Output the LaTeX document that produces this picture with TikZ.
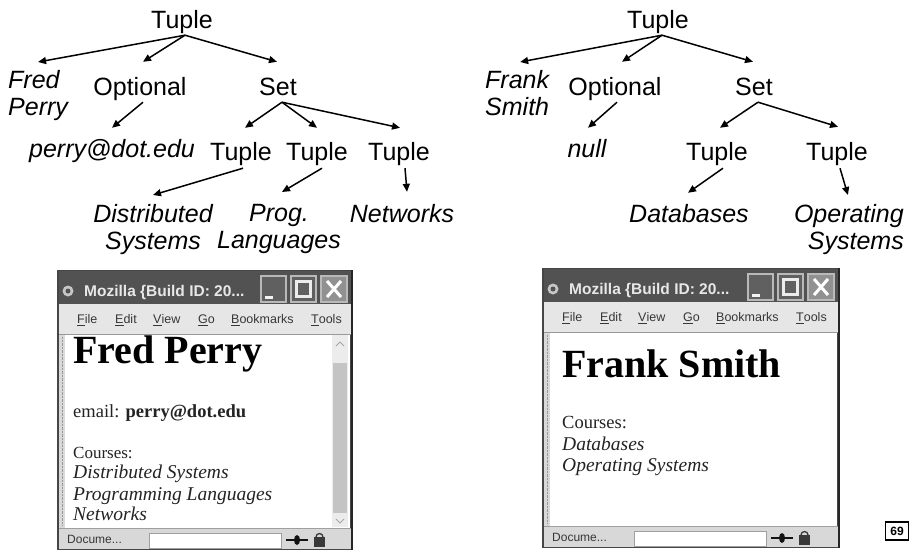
\documentclass[tikz,border=0pt]{standalone}
\usepackage{fontspec}
\setmainfont{Liberation Serif}
\newfontfamily\arialfam{Liberation Sans}
\usetikzlibrary{arrows.meta}

\definecolor{titlebar}{RGB}{82,82,82}
\definecolor{titletext}{RGB}{232,232,232}
\definecolor{menubg}{RGB}{230,230,230}
\definecolor{menutext}{RGB}{55,55,55}
\definecolor{framecol}{RGB}{70,70,70}
\definecolor{statusbg}{RGB}{216,216,216}
\definecolor{btnedge}{RGB}{185,185,185}
\definecolor{btnfill}{RGB}{96,96,96}
\definecolor{closefill}{RGB}{145,145,145}
\definecolor{scrolltrack}{RGB}{236,236,236}
\definecolor{scrollthumb}{RGB}{196,196,196}
\definecolor{pagetext}{RGB}{35,35,35}

\tikzset{
  lbl/.style={font=\arialfam\fontsize{25}{27}\selectfont, inner sep=0pt,
              text height=18pt, text depth=5pt, anchor=base},
  ilbl/.style={lbl, font=\arialfam\itshape\fontsize{25}{27}\selectfont},
  mlbl/.style={font=\arialfam\itshape\fontsize{25}{27}\selectfont, inner sep=0pt},
  arr/.style={-{Triangle[length=8pt,width=7pt]}, line width=1.5pt},
  menuitem/.style={font=\arialfam\fontsize{12.5}{14}\selectfont, text=menutext,
                   inner sep=0pt, anchor=west},
  pagehead/.style={font=\bfseries\fontsize{40}{42}\selectfont, inner sep=0pt,
                   anchor=base west, text=black},
  pageline/.style={font=\fontsize{18.5}{20}\selectfont, inner sep=0pt,
                   anchor=base west, text=pagetext},
  pageital/.style={font=\itshape\fontsize{19.5}{21}\selectfont, inner sep=0pt,
                   anchor=base west, text=pagetext},
}

% Browser window chrome: #1 = outer width, #2 = prefix for node names
\newcommand\mozwin[2]{%
  \def\ww{#1}%
  \fill[framecol] (0,0) rectangle (\ww,280);
  \fill[titlebar] (2,1) rectangle (\ww-2,34);
  % window icon
  \fill[gray!45] (11,21) circle (5.5);
  \fill[titlebar] (11,21) circle (2.5);
  \node[anchor=west, inner sep=0pt, text=titletext,
        font=\arialfam\bfseries\fontsize{15.5}{17}\selectfont] (#2title) at (27,22)
        {Mozilla \{Build ID: 20...};
  % minimize
  \fill[btnedge] (\ww-93,5) rectangle (\ww-66,33);
  \fill[btnfill] (\ww-91,7) rectangle (\ww-68,31);
  \fill[white!90!gray] (\ww-88,25.5) rectangle (\ww-80,28.5);
  % maximize
  \fill[btnedge] (\ww-63,5) rectangle (\ww-36,33);
  \fill[btnfill] (\ww-61,7) rectangle (\ww-38,31);
  \draw[white!85!gray, line width=2.5pt] (\ww-56.5,11.5) rectangle (\ww-42.5,26.5);
  % close
  \fill[btnedge] (\ww-33,5) rectangle (\ww-5,33);
  \fill[closefill] (\ww-31,7) rectangle (\ww-7,31);
  \draw[white, line width=3pt] (\ww-26,11) -- (\ww-12,27) (\ww-26,27) -- (\ww-12,11);
  % menu bar
  \fill[menubg] (2,34) rectangle (\ww-2,65);
  \draw[gray!80] (2,64.5) -- (\ww-2,64.5);
  \node[menuitem] (#2file) at (20,50) {\underline{F}ile};
  \node[menuitem] (#2edit) at (58,50) {\underline{E}dit};
  \node[menuitem] (#2view) at (96,50) {\underline{V}iew};
  \node[menuitem] (#2go) at (141,50) {\underline{G}o};
  \node[menuitem] (#2bm) at (174,50) {\underline{B}ookmarks};
  \node[menuitem] (#2tools) at (254,50) {\underline{T}ools};
  % page area with the left side strip
  \fill[white] (8,65) rectangle (\ww-3,258);
  \fill[gray!30] (2,65) rectangle (8,258);
  \draw[gray!80, densely dotted] (5,67) -- (5,256);
  % status bar
  \fill[statusbg] (2,258) rectangle (\ww-2,279);
  \draw[gray!75] (2,258.5) -- (\ww-2,258.5);
  \node[anchor=west, inner sep=0pt, text=menutext,
        font=\arialfam\fontsize{12}{13}\selectfont] (#2status) at (10,269) {Docume...};
  \filldraw[fill=white, draw=gray!75] (92,263) rectangle (224,278);
  % connection and security icons
  \draw[gray!15!black, line width=1.4pt] (229,270) -- (251,270);
  \fill[gray!15!black] (240,270) ellipse (3 and 5);
  \fill[gray!45!black] (257,267) rectangle (268,277);
  \draw[gray!45!black, line width=1.3pt] (259,267) arc (180:360:3.5);
  % dark outer edge on the right
  \draw[black!85, line width=2.5pt] (\ww-1,0) -- (\ww-1,280);
}

\begin{document}
\begin{tikzpicture}[x=1pt, y=-1pt]
\useasboundingbox (0,0) rectangle (910,554);
\fill[white] (0,0) rectangle (910,554);

% ---------- left tree ----------
\node[lbl] (t0) at (182,28) {Tuple};
\node[mlbl, align=left, anchor=north west] (fred) at (8,70) {Fred\\Perry};
\node[lbl] (opt) at (140,95) {Optional};
\node[lbl] (set) at (278,95) {Set};
\node[ilbl] (mail) at (112,157) {perry@dot.edu};
\node[lbl] (ta) at (241,160) {Tuple};
\node[lbl] (tb) at (317,160) {Tuple};
\node[lbl] (tc) at (399,160) {Tuple};
\node[mlbl, align=center, anchor=north] (dist) at (153,204) {Distributed\\Systems};
\node[mlbl, align=center, anchor=north] (prog) at (279,204) {Prog.\\Languages};
\node[ilbl] (net) at (402,222) {Networks};

\draw[arr] ([xshift=3pt,yshift=-2pt]t0.south) -- ([yshift=8pt]fred.north);
\draw[arr] ([xshift=3pt,yshift=-2pt]t0.south) -- ([xshift=3pt,yshift=15pt]opt.north);
\draw[arr] ([xshift=3pt,yshift=-2pt]t0.south) -- ([xshift=-1pt,yshift=15pt]set.north);
\draw[arr] ([xshift=3pt,yshift=-2pt]opt.south) -- ([yshift=11pt]mail.north);
\draw[arr] ([xshift=4pt,yshift=-2pt]set.south) -- ([xshift=4pt,yshift=14pt]ta.north);
\draw[arr] ([xshift=4pt,yshift=-2pt]set.south) -- ([yshift=14pt]tb.north);
\draw[arr] ([xshift=4pt,yshift=-2pt]set.south) -- ([xshift=1pt,yshift=14pt]tc.north);
\draw[arr] ([xshift=2pt,yshift=-3pt]ta.south) -- ([yshift=9pt]dist.north);
\draw[arr] ([xshift=5pt,yshift=-3pt]tb.south) -- ([xshift=3pt,yshift=12pt]prog.north);
\draw[arr] ([xshift=6pt,yshift=-3pt]tc.south) -- ([xshift=5pt,yshift=12pt]net.north);

% ---------- right tree ----------
\node[lbl] (u0) at (658,28) {Tuple};
\node[mlbl, align=left, anchor=north west] (frank) at (485,70) {Frank\\Smith};
\node[lbl] (optr) at (615,95) {Optional};
\node[lbl] (setr) at (754,95) {Set};
\node[ilbl] (nul) at (587,157) {null};
\node[lbl] (td) at (717,160) {Tuple};
\node[lbl] (te) at (837,160) {Tuple};
\node[ilbl] (db) at (689,222) {Databases};
\node[mlbl, align=right, anchor=north east] (os) at (904,204) {Operating\\Systems};

\draw[arr] ([xshift=4pt,yshift=-2pt]u0.south) -- ([xshift=3pt,yshift=8pt]frank.north);
\draw[arr] ([xshift=4pt,yshift=-2pt]u0.south) -- ([xshift=7pt,yshift=15pt]optr.north);
\draw[arr] ([xshift=4pt,yshift=-2pt]u0.south) -- ([xshift=-1pt,yshift=15pt]setr.north);
\draw[arr] ([xshift=2pt,yshift=-2pt]optr.south) -- ([xshift=1pt,yshift=11pt]nul.north);
\draw[arr] ([xshift=4pt,yshift=-2pt]setr.south) -- ([xshift=3pt,yshift=14pt]td.north);
\draw[arr] ([xshift=4pt,yshift=-2pt]setr.south) -- ([xshift=1pt,yshift=15pt]te.north);
\draw[arr] ([xshift=6pt,yshift=-3pt]td.south) -- ([xshift=-1pt,yshift=11pt]db.north);
\draw[arr] ([xshift=3pt,yshift=-3pt]te.south) -- ([xshift=-1pt,yshift=9pt]os.north);

% ---------- left browser window ----------
\begin{scope}[shift={(57,270)}]
  \mozwin{296}{lw}
  % vertical scrollbar
  \fill[scrolltrack] (275,65) rectangle (291,257);
  \fill[scrollthumb] (276,93) rectangle (290,243);
  \draw[gray!70, line width=1pt] (279,76) -- (283,72) -- (287,76);
  \draw[gray!70, line width=1pt] (279,249) -- (283,253) -- (287,249);
\end{scope}
\node[pagehead] (h1) at (73,363) {Fred Perry};
\node[pageline] (em) at (73,417) {email: \textbf{perry@dot.edu}};
\node[pageline, font=\fontsize{17}{20}\selectfont] (c1) at (73,458) {Courses:};
\node[pageital] (c1a) at (73,478) {Distributed Systems};
\node[pageital] (c1b) at (73,500) {Programming Languages};
\node[pageital] (c1c) at (73,520) {Networks};

% ---------- right browser window ----------
\begin{scope}[shift={(542,268)}]
  \mozwin{298}{rw}
\end{scope}
\node[pagehead] (h2) at (562,377) {Frank Smith};
\node[pageline] (c2) at (562,428) {Courses:};
\node[pageital] (c2a) at (562,450) {Databases};
\node[pageital] (c2b) at (562,471) {Operating Systems};

% ---------- page number ----------
\node[draw, line width=1.2pt, inner sep=0pt, minimum width=23pt, minimum height=18pt,
      font=\arialfam\bfseries\fontsize{12}{14}\selectfont] (pg) at (897,531) {69};
\end{tikzpicture}
\end{document}
